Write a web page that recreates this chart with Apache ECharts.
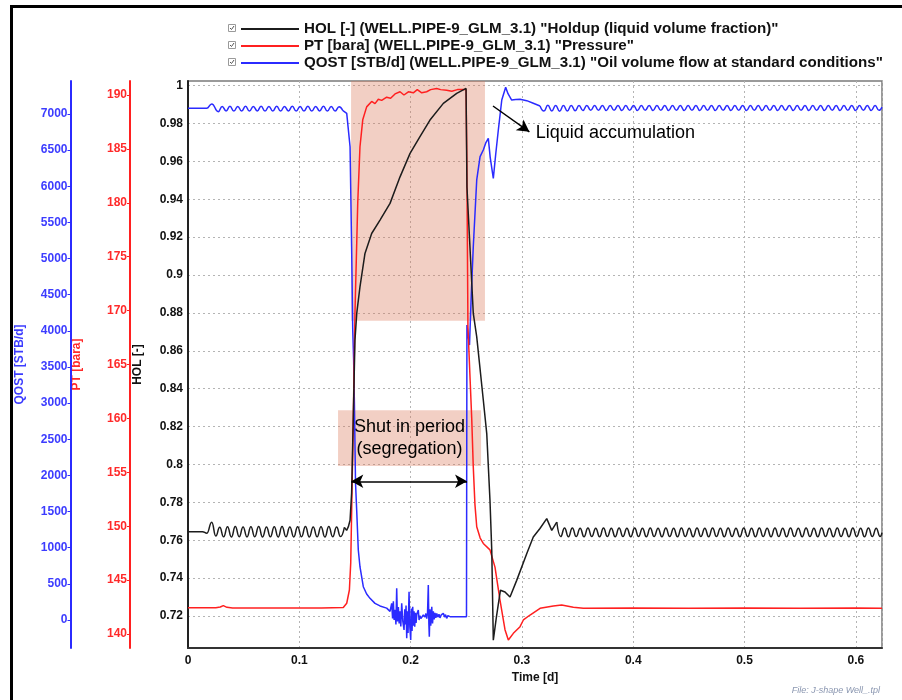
<!DOCTYPE html>
<html>
<head>
<meta charset="utf-8">
<script src="https://cdn.jsdelivr.net/npm/echarts@6/dist/echarts.min.js"></script>
<style>
html,body{margin:0;padding:0;background:#fff;}
#chart{width:902px;height:700px;}
</style>
</head>
<body>
<div id="chart"></div>
<script>
// ---------------- DATA ----------------
const NAME_HOL = 'HOL [-] (WELL.PIPE-9_GLM_3.1) "Holdup (liquid volume fraction)"';
const NAME_PT = 'PT [bara] (WELL.PIPE-9_GLM_3.1) "Pressure"';
const NAME_QOST = 'QOST [STB/d] (WELL.PIPE-9_GLM_3.1) "Oil volume flow at standard conditions"';

const TIME_MAX = 0.6235;
const HOL_TICKS = [0.72,0.74,0.76,0.78,0.8,0.82,0.84,0.86,0.88,0.9,0.92,0.94,0.96,0.98,1];
const PT_TICKS = [140,145,150,155,160,165,170,175,180,185,190];
const QOST_TICKS = [0,500,1000,1500,2000,2500,3000,3500,4000,4500,5000,5500,6000,6500,7000];

// HOL [-] vs time [d]
const HOL = [
[0,0.7645],[0.013,0.7645],[0.017,0.7637],[0.0213,0.7695],[0.025,0.7622],[0.0285,0.7668],
[0.032,0.7618],[0.0355,0.7671],[0.039,0.7617],[0.0425,0.7672],[0.046,0.7618],[0.0495,0.767],
[0.053,0.7617],[0.0565,0.7671],[0.06,0.7618],[0.0635,0.7672],[0.067,0.7617],[0.0705,0.767],
[0.074,0.7618],[0.0775,0.7671],[0.081,0.7617],[0.0845,0.7672],[0.088,0.7618],[0.0915,0.767],
[0.095,0.7617],[0.0985,0.7671],[0.102,0.7618],[0.1055,0.7672],[0.109,0.7617],[0.1125,0.767],
[0.116,0.7618],[0.1195,0.7671],[0.123,0.7617],[0.1265,0.7672],[0.13,0.7618],[0.1335,0.767],
[0.137,0.7619],[0.1405,0.7668],[0.1425,0.7652],[0.144,0.767],[0.1456,0.7705],[0.147,0.785],
[0.1485,0.825],[0.150,0.8656],[0.1516,0.8797],[0.1545,0.8937],[0.159,0.9114],[0.165,0.9219],
[0.1725,0.929],[0.1815,0.9378],[0.1905,0.9518],[0.1995,0.9642],[0.2084,0.973],[0.2174,0.9818],
[0.2294,0.9906],[0.2414,0.9959],[0.2498,0.9985],[0.2506,0.9466],[0.2563,0.8797],[0.2594,0.8673],
[0.2653,0.834],[0.2684,0.8163],[0.2713,0.7811],[0.2729,0.7547],[0.2743,0.7072],[0.2771,0.7195],
[0.2807,0.7336],[0.2848,0.7327],[0.2893,0.73],[0.2953,0.7388],[0.3043,0.7529],[0.3102,0.7617],
[0.3162,0.7662],[0.3223,0.7714],[0.3268,0.7652],[0.3313,0.7696],
[0.3348,0.7619],[0.3383,0.7665],[0.3418,0.7618],[0.3453,0.7664],[0.3488,0.7619],[0.3523,0.7663],
[0.3558,0.7618],[0.3593,0.7664],[0.3628,0.7619],[0.3663,0.7663],[0.3698,0.7618],[0.3733,0.7664],
[0.3768,0.7619],[0.3803,0.7663],[0.3838,0.7618],[0.3873,0.7664],[0.3908,0.7619],[0.3943,0.7663],
[0.3978,0.7618],[0.4013,0.7664],[0.4048,0.7619],[0.4083,0.7663],[0.4118,0.7618],[0.4153,0.7664],
[0.4188,0.7619],[0.4223,0.7663],[0.4258,0.7618],[0.4293,0.7664],[0.4328,0.7619],[0.4363,0.7663],
[0.4398,0.7618],[0.4433,0.7664],[0.4468,0.7619],[0.4503,0.7663],[0.4538,0.7618],[0.4573,0.7664],
[0.4608,0.7619],[0.4643,0.7663],[0.4678,0.7618],[0.4713,0.7664],[0.4748,0.7619],[0.4783,0.7663],
[0.4818,0.7618],[0.4853,0.7664],[0.4888,0.7619],[0.4923,0.7663],[0.4958,0.7618],[0.4993,0.7664],
[0.5028,0.7619],[0.5063,0.7663],[0.5098,0.7618],[0.5133,0.7664],[0.5168,0.7619],[0.5203,0.7663],
[0.5238,0.7618],[0.5273,0.7664],[0.5308,0.7619],[0.5343,0.7663],[0.5378,0.7618],[0.5413,0.7664],
[0.5448,0.7619],[0.5483,0.7663],[0.5518,0.7618],[0.5553,0.7664],[0.5588,0.7619],[0.5623,0.7663],
[0.5658,0.7618],[0.5693,0.7664],[0.5728,0.7619],[0.5763,0.7663],[0.5798,0.7618],[0.5833,0.7664],
[0.5868,0.7619],[0.5903,0.7663],[0.5938,0.7618],[0.5973,0.7664],[0.6008,0.7619],[0.6043,0.7663],
[0.6078,0.7618],[0.6113,0.7664],[0.6148,0.7619],[0.6183,0.7663],[0.6218,0.7619],[0.6235,0.764]
];

// PT [bara] vs time [d]
const PT = [
[0,142.44],[0.025,142.44],[0.029,142.5],[0.0317,142.63],[0.035,142.47],[0.04,142.42],[0.06,142.4],
[0.08,142.42],[0.1,142.4],[0.12,142.41],[0.1395,142.45],[0.1426,142.85],[0.145,144.08],[0.1462,146.6],
[0.147,151.2],[0.1485,160],[0.150,169.75],[0.1525,180],[0.1545,185.2],[0.157,187.7],[0.1605,188.9],
[0.165,189.4],[0.168,189.2],[0.171,189.6],[0.174,189.5],[0.1785,189.8],[0.182,189.7],[0.186,190.1],
[0.1905,190.3],[0.194,190.0],[0.198,190.3],[0.2024,190.2],[0.206,190.5],[0.210,190.2],[0.2144,190.3],
[0.218,190.5],[0.2234,190.6],[0.227,190.5],[0.2324,190.45],[0.237,190.35],[0.242,190.5],[0.2498,190.5],
[0.2505,184],[0.2515,168.5],[0.2535,163.5],[0.2549,160],[0.2563,155.5],[0.2578,152],[0.2594,149.95],
[0.2625,148.9],[0.2653,148.4],[0.2713,147.8],[0.2758,146.2],[0.2803,143.15],[0.2848,140.4],[0.2878,139.44],
[0.2923,140.06],[0.2983,140.68],[0.3013,141.3],[0.3073,141.76],[0.3163,142.38],[0.3282,142.6],[0.3357,142.69],
[0.3462,142.48],[0.3552,142.38],[0.40,142.4],[0.45,142.38],[0.50,142.4],[0.55,142.38],[0.60,142.4],[0.6235,142.38]
];

// QOST [STB/d] vs time [d]
const QOST = [
[0,7078],[0.0168,7078],[0.0213,7138],[0.0272,7032],
[0.0307,7105],[0.0342,7042],[0.0377,7106],[0.0412,7040],[0.0447,7105],[0.0482,7041],[0.0517,7106],
[0.0552,7040],[0.0587,7105],[0.0622,7042],[0.0657,7106],[0.0692,7040],[0.0727,7105],[0.0762,7041],
[0.0797,7106],[0.0832,7040],[0.0867,7105],[0.0902,7042],[0.0937,7106],[0.0972,7040],[0.1007,7105],
[0.1042,7041],[0.1077,7106],[0.1112,7040],[0.1147,7105],[0.1182,7042],[0.1217,7106],[0.1252,7040],
[0.1287,7105],[0.1322,7041],[0.1357,7100],[0.1392,7045],
[0.1426,7009],[0.1456,6547],[0.147,5164],[0.148,4012],[0.1488,3600],[0.1495,3000],[0.1505,1900],
[0.1516,1500],[0.153,968],[0.1545,737],[0.1575,461],[0.1605,360],[0.1635,300],[0.168,230],[0.1725,195],
[0.1785,165],
[0.18,162],[0.1815,120],[0.183,230],[0.1838,20],[0.1845,260],[0.1852,0],[0.186,140],[0.1868,-60],
[0.1875,438],[0.1882,-20],[0.189,180],[0.1897,-46],[0.1905,120],[0.1912,-90],[0.192,231],[0.193,-20],
[0.1941,-138],[0.1947,150],[0.1953,-60],[0.1959,200],[0.1965,-253],[0.1971,120],[0.1977,-180],[0.1986,391],
[0.1993,-100],[0.2001,-277],[0.2007,160],[0.2013,-150],[0.2019,184],[0.2025,-80],[0.2031,120],[0.2037,-92],
[0.2043,100],[0.2049,-40],[0.2056,80],[0.2069,138],[0.2076,0],[0.2084,60],[0.2092,20],[0.21,23],
[0.2114,70],[0.2129,40],[0.2137,90],[0.2145,20],[0.2152,100],[0.2159,484],[0.2164,-50],[0.2168,-231],
[0.2174,150],[0.2181,-80],[0.219,184],[0.2197,-46],[0.2204,120],[0.2212,10],[0.2219,100],[0.2227,30],
[0.2235,90],[0.2245,40],[0.2255,80],[0.2264,30],[0.2275,70],[0.2294,93],[0.2305,40],[0.2314,75],
[0.2324,23],[0.2335,60],[0.2354,46],[0.2414,46],[0.2474,46],[0.2502,46],
[0.2506,4081],[0.2515,3950],[0.2529,3804],[0.2545,4500],[0.2563,5164],[0.2594,6087],[0.2624,6409],
[0.2653,6502],[0.2675,6600],[0.2698,6663],[0.2715,6400],[0.2743,6110],[0.2765,6450],[0.2788,6778],
[0.2819,7193],[0.2854,7369],[0.2875,7280],[0.2908,7193],[0.2945,7200],[0.2983,7203],[0.3043,7184],
[0.3102,7148],[0.3163,7110],
[0.3198,7040],[0.3233,7120],[0.3268,7042],[0.3303,7118],[0.3338,7038],[0.3373,7116],[0.3408,7042],
[0.3443,7118],[0.3478,7045],[0.3513,7116],[0.3548,7048],[0.3583,7118],[0.3618,7050],[0.3653,7116],
[0.3688,7050],[0.3723,7118],[0.3758,7048],[0.3793,7116],[0.3828,7050],[0.3863,7118],[0.3898,7048],
[0.3933,7116],[0.3968,7050],[0.4003,7118],[0.4038,7048],[0.4073,7116],[0.4108,7050],[0.4143,7118],
[0.4178,7048],[0.4213,7116],[0.4248,7050],[0.4283,7118],[0.4318,7048],[0.4353,7116],[0.4388,7050],
[0.4423,7118],[0.4458,7048],[0.4493,7116],[0.4528,7050],[0.4563,7118],[0.4598,7048],[0.4633,7116],
[0.4668,7050],[0.4703,7118],[0.4738,7048],[0.4773,7116],[0.4808,7050],[0.4843,7118],[0.4878,7048],
[0.4913,7116],[0.4948,7050],[0.4983,7118],[0.5018,7048],[0.5053,7116],[0.5088,7050],[0.5123,7118],
[0.5158,7048],[0.5193,7116],[0.5228,7050],[0.5263,7118],[0.5298,7048],[0.5333,7116],[0.5368,7050],
[0.5403,7118],[0.5438,7048],[0.5473,7116],[0.5508,7050],[0.5543,7118],[0.5578,7048],[0.5613,7116],
[0.5648,7050],[0.5683,7118],[0.5718,7048],[0.5753,7116],[0.5788,7050],[0.5823,7118],[0.5858,7048],
[0.5893,7116],[0.5928,7050],[0.5963,7118],[0.5998,7048],[0.6033,7116],[0.6068,7050],[0.6103,7118],
[0.6138,7048],[0.6173,7116],[0.6208,7050],[0.6235,7095]
];

// time windows of the steady oscillating parts (smoothed) vs. the shut-in transient
const HOL_OSC = [0.1405, 0.3313];
const QOST_OSC = [0.1392, 0.3163];

// Annotations (data coordinates: time [d], HOL [-])
const ACCUM_BOX = [[0.1465, 1.0024], [0.2668, 0.8758]];
const SHUTIN_BOX = [[0.1348, 0.8286], [0.2633, 0.7992]];
const SHUTIN_ARROW = [[0.1467, 0.7911], [0.2507, 0.7911]];
const ACCUM_ARROW = [[0.2740, 0.9892], [0.3067, 0.9756]];
const ACCUM_TEXT_POS = [0.3125, 0.9748];

// ---------------- CHART ----------------
const FONT = '"Liberation Sans", Arial, Helvetica, sans-serif';
const BLUE = '#2b2bff', RED = '#ff2020', BLACK = '#1c1c1c';
const BLUE_T = '#3c3cff', RED_T = '#ff2a2a';
const chart = echarts.init(document.getElementById('chart'), null, {renderer: 'canvas'});
const fmt = v => String(v);
const seg = (arr, x0, x1) => arr.filter(p => p[0] >= x0 && p[0] <= x1);
const gridDots = {show: true, lineStyle: {color: '#b4b4b4', width: 1, type: [2, 3]}};

function lineSeries(name, yIdx, data, color, z, smooth, extra) {
  return Object.assign({
    name: name, type: 'line', yAxisIndex: yIdx, data: data, z: z,
    symbol: 'none', showSymbol: false, smooth: smooth ? 0.5 : false, smoothMonotone: 'x',
    lineStyle: {color: color, width: 1.5}, itemStyle: {color: color},
    emphasis: {disabled: true}
  }, extra || {});
}

const markers = {
  markArea: {
    silent: true,
    itemStyle: {color: 'rgba(218,118,86,0.35)'},
    data: [
      [{coord: ACCUM_BOX[0]}, {coord: ACCUM_BOX[1]}],
      [{name: 'Shut in period\n(segregation)', coord: SHUTIN_BOX[0],
        label: {show: true, position: 'inside', color: '#000', fontFamily: FONT, fontSize: 18, lineHeight: 22}},
       {coord: SHUTIN_BOX[1]}]
    ]
  },
  markLine: {
    silent: true, animation: false,
    label: {show: false},
    lineStyle: {color: '#000', width: 1.5, type: 'solid'},
    symbolSize: [10, 12],
    data: [
      [{coord: SHUTIN_ARROW[0], symbol: 'arrow'}, {coord: SHUTIN_ARROW[1], symbol: 'arrow'}],
      [{coord: ACCUM_ARROW[0], symbol: 'none'}, {coord: ACCUM_ARROW[1], symbol: 'arrow'}]
    ]
  },
  markPoint: {
    silent: true,
    symbol: 'circle', symbolSize: 0,
    data: [{coord: ACCUM_TEXT_POS, value: 'Liquid accumulation',
      label: {show: true, position: 'right', distance: 0, formatter: 'Liquid accumulation',
        color: '#000', fontFamily: FONT, fontSize: 18}}]
  }
};

const option = {
  animation: false,
  backgroundColor: '#ffffff',
  textStyle: {fontFamily: FONT},
  grid: {left: 188, right: 20, top: 81, bottom: 52, show: true, borderColor: '#7a7a7a', borderWidth: 1.5, backgroundColor: '#fff'},
  legend: {
    orient: 'vertical', left: 241, top: 20.5, padding: 0,
    icon: 'rect', itemWidth: 58, itemHeight: 2, itemGap: 0,
    selectedMode: false,
    textStyle: {fontFamily: FONT, fontSize: 15.15, lineHeight: 17, fontWeight: 'bold', color: '#111'},
    data: [NAME_HOL, NAME_PT, NAME_QOST]
  },
  xAxis: {
    type: 'value', min: 0, max: TIME_MAX, interval: 0.1,
    name: 'Time [d]', nameLocation: 'middle', nameGap: 21,
    nameTextStyle: {fontFamily: FONT, fontSize: 12, fontWeight: 'bold', color: '#111'},
    axisLine: {show: true, onZero: false, lineStyle: {color: '#333', width: 2}},
    axisTick: {show: false},
    axisLabel: {formatter: fmt, fontFamily: FONT, fontSize: 12, fontWeight: 'bold', color: '#111', margin: 7, showMaxLabel: false},
    splitLine: gridDots
  },
  yAxis: [
    {
      type: 'value', min: 0.7031, max: 1.0024, position: 'left', offset: 0,
      name: 'HOL [-]', nameLocation: 'middle', nameGap: 44, nameRotate: 90,
      nameTextStyle: {fontFamily: FONT, fontSize: 12, fontWeight: 'bold', color: '#111'},
      axisLine: {show: true, onZero: false, lineStyle: {color: '#222', width: 2}},
      axisTick: {show: false, customValues: HOL_TICKS},
      axisLabel: {customValues: HOL_TICKS, formatter: fmt, fontFamily: FONT, fontSize: 12, fontWeight: 'bold', color: '#111', margin: 5},
      splitLine: gridDots
    },
    {
      type: 'value', min: 138.7, max: 191.3, position: 'left', offset: 58,
      name: 'PT [bara]', nameLocation: 'middle', nameGap: 47, nameRotate: 90,
      nameTextStyle: {fontFamily: FONT, fontSize: 12, fontWeight: 'bold', color: RED_T},
      axisLine: {show: true, onZero: false, lineStyle: {color: RED, width: 2}},
      axisTick: {show: true, length: 3, customValues: PT_TICKS, lineStyle: {color: RED, width: 1}},
      axisLabel: {customValues: PT_TICKS, formatter: fmt, fontFamily: FONT, fontSize: 12, fontWeight: 'bold', color: RED_T, margin: 3},
      splitLine: {show: false}
    },
    {
      type: 'value', min: -387, max: 7456, position: 'left', offset: 117.5,
      name: 'QOST [STB/d]', nameLocation: 'middle', nameGap: 44.5, nameRotate: 90,
      nameTextStyle: {fontFamily: FONT, fontSize: 12, fontWeight: 'bold', color: BLUE_T},
      axisLine: {show: true, onZero: false, lineStyle: {color: BLUE, width: 2}},
      axisTick: {show: true, length: 3, customValues: QOST_TICKS, lineStyle: {color: BLUE, width: 1}},
      axisLabel: {customValues: QOST_TICKS, formatter: fmt, fontFamily: FONT, fontSize: 12, fontWeight: 'bold', color: BLUE_T, margin: 3},
      splitLine: {show: false}
    }
  ],
  series: [
    lineSeries(NAME_HOL, 0, seg(HOL, HOL_OSC[0], HOL_OSC[1]), BLACK, 4, false, markers),
    lineSeries(NAME_HOL, 0, seg(HOL, 0, HOL_OSC[0]), BLACK, 4, true),
    lineSeries(NAME_HOL, 0, seg(HOL, HOL_OSC[1], TIME_MAX), BLACK, 4, true),
    lineSeries(NAME_PT, 1, PT, RED, 3, false),
    lineSeries(NAME_QOST, 2, seg(QOST, QOST_OSC[0], QOST_OSC[1]), BLUE, 2, false),
    lineSeries(NAME_QOST, 2, seg(QOST, 0, QOST_OSC[0]), BLUE, 2, true),
    lineSeries(NAME_QOST, 2, seg(QOST, QOST_OSC[1], TIME_MAX), BLUE, 2, true)
  ],
  graphic: [
    // outer frame of the figure
    {type: 'rect', silent: true, shape: {x: 11.5, y: 6.5, width: 1000, height: 1000},
     style: {fill: null, stroke: '#000', lineWidth: 3}},
    // legend check boxes
    {type: 'group', silent: true, children: [0, 1, 2].map(i => ({
      type: 'group', x: 228.5, y: 24.5 + i * 17,
      children: [
        {type: 'rect', shape: {x: 0, y: 0, width: 7, height: 7}, style: {fill: '#fff', stroke: '#9a9a9a', lineWidth: 1}},
        {type: 'polyline', shape: {points: [[1.5, 3.5], [3, 5], [5.5, 1.5]]}, style: {fill: null, stroke: '#555', lineWidth: 1}}
      ]
    }))},
    // file note
    {type: 'text', silent: true, right: 22, top: 686,
     style: {text: 'File: J-shape Well_.tpl', fill: '#8a96b0', font: 'italic 9px ' + FONT}}
  ]
};
chart.setOption(option);
</script>
</body>
</html>
